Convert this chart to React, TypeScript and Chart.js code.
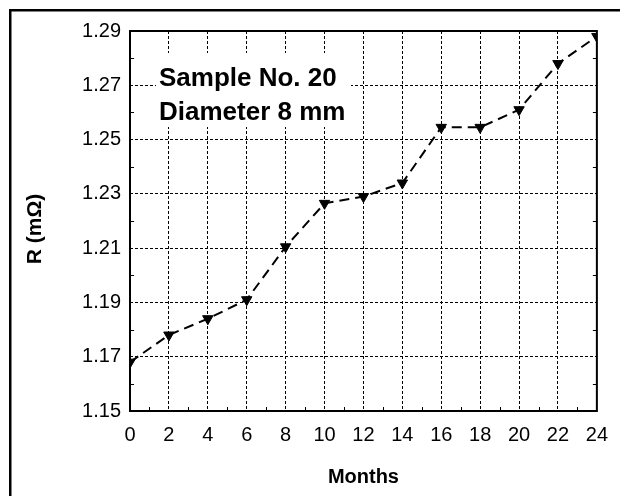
import React, { useEffect, useRef } from "react";
import { Chart, registerables } from "chart.js";

Chart.register(...registerables);

const months = [0, 2, 4, 6, 8, 10, 12, 14, 16, 18, 20, 22, 24];
const resistance = [1.168, 1.178, 1.184, 1.191, 1.2105, 1.2265, 1.229, 1.234, 1.2545, 1.2545, 1.261, 1.278, 1.288];
const xTicks = [0, 2, 4, 6, 8, 10, 12, 14, 16, 18, 20, 22, 24];
const yTicks = [1.15, 1.17, 1.19, 1.21, 1.23, 1.25, 1.27, 1.29];
const xMinor = [1, 3, 5, 7, 9, 11, 13, 15, 17, 19, 21, 23];
const yMinor = [1.16, 1.18, 1.2, 1.22, 1.24, 1.26, 1.28];
const annotationLines = ["Sample No. 20", "Diameter 8 mm"];
const xTitle = "Months";
const yTitle = "R (mΩ)";

const FONT = "'Liberation Sans', Arial, sans-serif";

export default function App() {
  const ref = useRef<HTMLCanvasElement | null>(null);

  useEffect(() => {
    const canvas = ref.current;
    if (!canvas) return;

    const decor = {
      id: "decor",
      beforeDatasetsDraw(chart: any) {
        const ctx = chart.ctx;
        const ca = chart.chartArea;
        const xs = chart.scales.x;
        const ys = chart.scales.y;
        ctx.save();
        // white box behind annotation
        ctx.fillStyle = "#fff";
        ctx.fillRect(156, 53, 195, 74);
        ctx.fillStyle = "#000";
        ctx.font = `bold 26px ${FONT}`;
        ctx.textAlign = "left";
        ctx.textBaseline = "alphabetic";
        ctx.fillText(annotationLines[0], 159, 86);
        ctx.fillText(annotationLines[1], 159, 120);
        // minor ticks
        ctx.strokeStyle = "#000";
        ctx.lineWidth = 1;
        ctx.beginPath();
        xMinor.forEach((m) => {
          const px = Math.round(xs.getPixelForValue(m)) + 0.5;
          ctx.moveTo(px, ca.bottom);
          ctx.lineTo(px, ca.bottom - 4);
        });
        yMinor.forEach((v) => {
          const py = Math.round(ys.getPixelForValue(v)) + 0.5;
          ctx.moveTo(ca.left, py);
          ctx.lineTo(ca.left + 4, py);
          ctx.moveTo(ca.right, py);
          ctx.lineTo(ca.right - 4, py);
        });
        ctx.stroke();
        // plot border
        ctx.lineWidth = 2;
        ctx.strokeRect(ca.left, ca.top, ca.right - ca.left, ca.bottom - ca.top);
        ctx.restore();
      },
      afterDraw(chart: any) {
        const ctx = chart.ctx;
        const ca = chart.chartArea;
        ctx.save();
        ctx.fillStyle = "#000";
        // outer frame (top and left edges)
        ctx.fillRect(9, 9, 611, 2.5);
        ctx.fillRect(9, 9, 2.5, 487);
        // axis titles
        ctx.font = `bold 20px ${FONT}`;
        ctx.textAlign = "center";
        ctx.textBaseline = "middle";
        ctx.fillText(xTitle, (ca.left + ca.right) / 2, 477);
        ctx.translate(35, 229);
        ctx.rotate(-Math.PI / 2);
        ctx.font = `bold 21px ${FONT}`;
        ctx.fillText(yTitle, 0, 0);
        ctx.restore();
      },
    };

    const chart = new Chart(canvas, {
      type: "line",
      data: {
        datasets: [
          {
            data: months.map((m, i) => ({ x: m, y: resistance[i] })),
            borderColor: "#000",
            borderWidth: 2,
            borderDash: [10, 6],
            fill: false,
            tension: 0,
            pointStyle: "triangle",
            rotation: 180,
            pointRadius: 6,
            pointBackgroundColor: "#000",
            pointBorderColor: "#000",
            pointBorderWidth: 1,
          },
        ],
      },
      options: {
        responsive: false,
        animation: false,
        layout: { padding: { left: 0, right: 20, top: 31, bottom: 0 } },
        plugins: { legend: { display: false }, tooltip: { enabled: false } },
        scales: {
          x: {
            type: "linear",
            min: 0,
            max: 24,
            afterBuildTicks: (scale: any) => {
              scale.ticks = xTicks.map((v) => ({ value: v }));
            },
            afterFit: (scale: any) => {
              scale.height = 85;
            },
            ticks: {
              color: "#000",
              font: { family: FONT, size: 20 },
              padding: 12,
              maxRotation: 0,
              autoSkip: false,
              callback: (v: any) => String(v),
            },
            grid: {
              color: "#000",
              lineWidth: 1,
              drawTicks: false,
            },
            border: { display: false, dash: [3, 2] },
          },
          y: {
            type: "linear",
            min: 1.15,
            max: 1.29,
            afterBuildTicks: (scale: any) => {
              scale.ticks = yTicks.map((v) => ({ value: v }));
            },
            afterFit: (scale: any) => {
              scale.width = 130;
            },
            ticks: {
              color: "#000",
              font: { family: FONT, size: 20 },
              padding: 9,
              autoSkip: false,
              callback: (v: any) => Number(v).toFixed(2),
            },
            grid: {
              color: "#000",
              lineWidth: 1,
              drawTicks: false,
            },
            border: { display: false, dash: [3, 2] },
          },
        },
      },
      plugins: [decor],
    } as any);

    return () => chart.destroy();
  }, []);

  return (
    <div style={{ position: "absolute", left: 0, top: 0, width: 620, height: 496, background: "#fff" }}>
      <canvas ref={ref} width={620} height={496} style={{ display: "block", width: 620, height: 496 }} />
    </div>
  );
}
